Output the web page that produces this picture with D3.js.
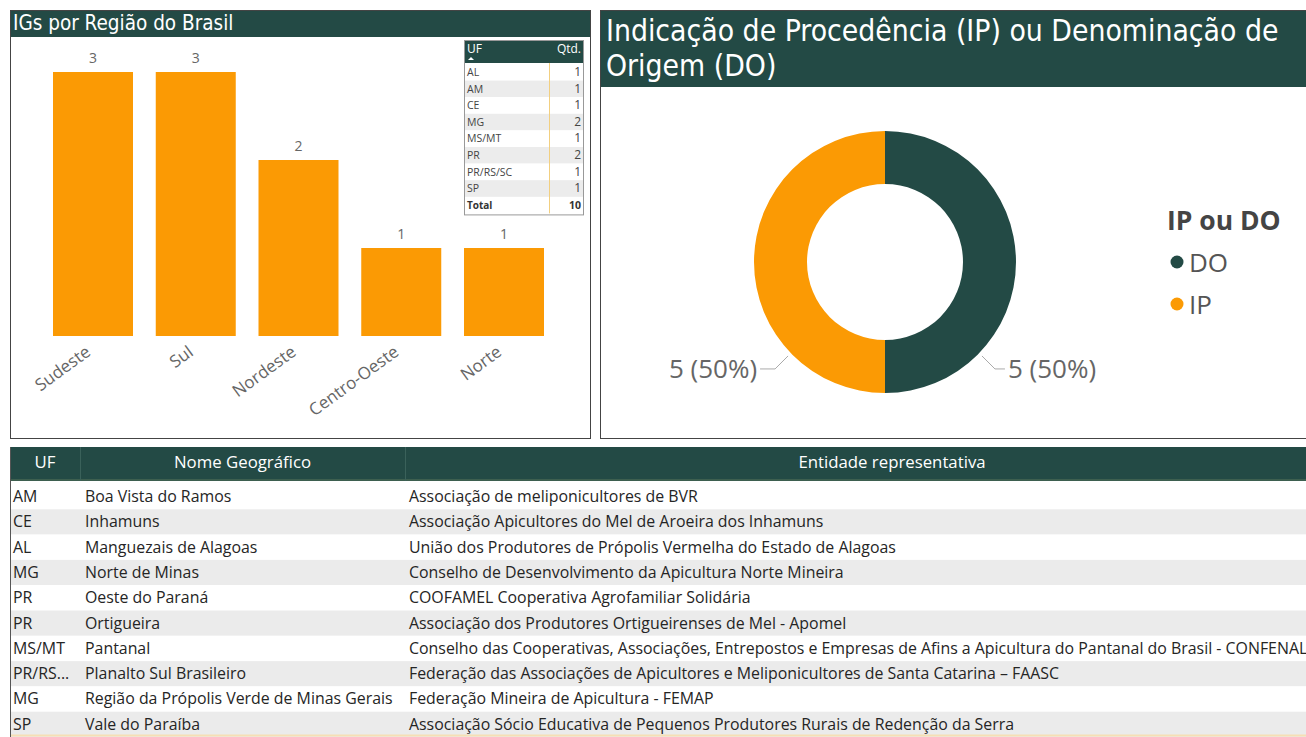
<!DOCTYPE html>
<html><head><meta charset="utf-8">
<script src="https://cdn.jsdelivr.net/npm/d3@7/dist/d3.min.js"></script>
<style>
body{margin:0;background:#fff;overflow:hidden}
svg{display:block}
</style></head>
<body>
<svg id="c" width="1306" height="737"></svg>
<script>
// ---------- DATA ----------
const regions = ["Sudeste","Sul","Nordeste","Centro-Oeste","Norte"];
const regionCounts = [3,3,2,1,1];
const ufList = ["AL","AM","CE","MG","MS/MT","PR","PR/RS/SC","SP"];
const ufCounts = [1,1,1,2,1,2,1,1];
const ufTotal = 10;
const types = ["DO","IP"];
const typeCounts = [5,5];
const tableUF = ["AM","CE","AL","MG","PR","PR","MS/MT","PR/RS...","MG","SP"];
const tableNome = ["Boa Vista do Ramos","Inhamuns","Manguezais de Alagoas","Norte de Minas","Oeste do Paraná","Ortigueira","Pantanal","Planalto Sul Brasileiro","Região da Própolis Verde de Minas Gerais","Vale do Paraíba"];
const tableEntidade = ["Associação de meliponicultores de BVR","Associação Apicultores do Mel de Aroeira dos Inhamuns","União dos Produtores de Própolis Vermelha do Estado de Alagoas","Conselho de Desenvolvimento da Apicultura Norte Mineira","COOFAMEL Cooperativa Agrofamiliar Solidária","Associação dos Produtores Ortigueirenses de Mel - Apomel","Conselho das Cooperativas, Associações, Entrepostos e Empresas de Afins a Apicultura do Pantanal do Brasil - CONFENAL","Federação das Associações de Apicultores e Meliponicultores de Santa Catarina – FAASC","Federação Mineira de Apicultura - FEMAP","Associação Sócio Educativa de Pequenos Produtores Rurais de Redenção da Serra"];
const tableHeaders = ["UF","Nome Geográfico","Entidade representativa"];

// ---------- STYLE ----------
const GREEN = "#234a45", ORANGE = "#fb9a04", GREY_TXT = "#666";
const titleFont = "'DejaVu Sans Condensed','DejaVu Sans',sans-serif";
const bodyFont = "'Open Sans','Noto Sans',sans-serif";
const svg = d3.select("#c");

// ---------- LEFT PANEL: bar chart ----------
const L = svg.append("g");
L.append("rect").attr("x",10.5).attr("y",10.5).attr("width",580).attr("height",428)
  .attr("fill","#fff").attr("stroke","#444");
L.append("rect").attr("x",11).attr("y",11).attr("width",579).attr("height",26).attr("fill",GREEN);
L.append("text").attr("x",13).attr("y",30).attr("fill","#fff")
  .style("font-family",titleFont).style("font-size","20.5px").text("IGs por Região do Brasil");

const x = d3.scaleBand().domain(regions).range([53,544]).paddingInner(0.2214).paddingOuter(0);
const y = d3.scaleLinear().domain([0,3]).range([336,72]);
L.selectAll("rect.bar").data(regions).join("rect").attr("class","bar")
  .attr("x",d=>x(d)).attr("width",x.bandwidth())
  .attr("y",(d,i)=>y(regionCounts[i])).attr("height",(d,i)=>y(0)-y(regionCounts[i]))
  .attr("fill",ORANGE);
L.selectAll("text.val").data(regions).join("text").attr("class","val")
  .attr("x",d=>x(d)+x.bandwidth()/2).attr("y",(d,i)=>y(regionCounts[i])-9)
  .attr("text-anchor","middle").attr("fill",GREY_TXT)
  .style("font-family",bodyFont).style("font-size","14px").text((d,i)=>regionCounts[i]);
const xAxis = L.append("g").attr("transform","translate(0,336)").call(d3.axisBottom(x).tickSize(0));
xAxis.select(".domain").remove();
xAxis.selectAll("text").attr("fill",GREY_TXT).style("font-family",bodyFont).style("font-size","17px")
  .attr("text-anchor","end").attr("dx",0).attr("dy",0)
  .attr("transform","translate(-3,16) rotate(-36)");

// small UF table
const T = L.append("g");
const tx0 = 464, tx1 = 583, thY = 40, thH = 23, rowH = 16.6;
T.append("rect").attr("x",tx0+0.5).attr("y",thY+0.5).attr("width",tx1-tx0).attr("height",thH+rowH*(ufList.length+1)+2)
  .attr("fill","#fff").attr("stroke","#999");
T.append("rect").attr("x",tx0+1).attr("y",thY+1).attr("width",tx1-tx0-1).attr("height",thH-1).attr("fill",GREEN);
T.append("text").attr("x",tx0+3).attr("y",thY+13).attr("fill","#fff").style("font-family",bodyFont).style("font-size","12px").text("UF");
T.append("path").attr("d",`M${tx0+4},${thY+20}l3,-3l3,3z`).attr("fill","#fff");
T.append("text").attr("x",tx1-2).attr("y",thY+13).attr("text-anchor","end").attr("fill","#fff").style("font-family",bodyFont).style("font-size","12px").text("Qtd.");
const rowsY = d3.scaleBand().domain(d3.range(ufList.length+1)).range([thY+thH+1, thY+thH+1+rowH*(ufList.length+1)]);
T.selectAll("rect.r").data(ufList).join("rect").attr("class","r")
  .attr("x",tx0+1).attr("width",tx1-tx0-1).attr("y",(d,i)=>rowsY(i)).attr("height",rowH)
  .attr("fill",(d,i)=>i%2? "#ececec":"#fff");
T.append("line").attr("x1",549.5).attr("x2",549.5).attr("y1",thY+thH).attr("y2",rowsY(ufList.length)+rowH)
  .attr("stroke","#f2cf80").attr("stroke-width",1);
T.selectAll("text.u").data(ufList).join("text").attr("class","u")
  .attr("x",tx0+3).attr("y",(d,i)=>rowsY(i)+12).attr("fill","#444")
  .style("font-family",bodyFont).style("font-size","10.5px").text(d=>d);
T.selectAll("text.q").data(ufCounts).join("text").attr("class","q")
  .attr("x",tx1-2).attr("y",(d,i)=>rowsY(i)+12).attr("text-anchor","end").attr("fill","#444")
  .style("font-family",bodyFont).style("font-size","12px").text(d=>d);
T.append("text").attr("x",tx0+3).attr("y",rowsY(ufList.length)+12).attr("fill","#333").attr("font-weight","bold")
  .style("font-family",bodyFont).style("font-size","10px").text("Total");
T.append("text").attr("x",tx1-2).attr("y",rowsY(ufList.length)+12).attr("text-anchor","end").attr("fill","#333").attr("font-weight","bold")
  .style("font-family",bodyFont).style("font-size","10.5px").text(ufTotal);

// ---------- RIGHT PANEL: donut ----------
const R = svg.append("g");
R.append("rect").attr("x",600.5).attr("y",10.5).attr("width",720).attr("height",428)
  .attr("fill","#fff").attr("stroke","#444");
R.append("rect").attr("x",601).attr("y",11).attr("width",710).attr("height",76).attr("fill",GREEN);
R.append("text").attr("fill","#fff").style("font-family",titleFont).style("font-size","29.8px")
  .selectAll("tspan").data(["Indicação de Procedência (IP) ou Denominação de","Origem (DO)"]).join("tspan")
  .attr("x",606).attr("y",(d,i)=>41+i*35).text(d=>d);

const cx = 885, cy = 262, rOut = 131, rIn = 78;
const color = d3.scaleOrdinal().domain(types).range([GREEN, ORANGE]);
const pie = d3.pie().sort(null).value(d=>d.v);
const arcs = pie(types.map((t,i)=>({t, v:typeCounts[i]})));
const arc = d3.arc().innerRadius(rIn).outerRadius(rOut);
const D = R.append("g").attr("transform",`translate(${cx},${cy})`);
D.selectAll("path").data(arcs).join("path").attr("d",arc).attr("fill",d=>color(d.data.t));
const total = d3.sum(typeCounts);
// labels placed toward the lower part of each slice
arcs.forEach(a=>{
  const right = a.startAngle < Math.PI;
  const ang = right ? a.startAngle + (a.endAngle-a.startAngle)*0.745 : a.endAngle - (a.endAngle-a.startAngle)*0.745;
  const p0 = [Math.sin(ang)*(rOut+4), -Math.cos(ang)*(rOut+4)];
  const p1 = [p0[0] + (right?13:-13), p0[1]+13];
  const p2 = [p1[0] + (right?10:-15), p1[1]];
  D.append("polyline").attr("points",[p0,p1,p2].map(p=>p.join(",")).join(" "))
    .attr("fill","none").attr("stroke","#aaa").attr("stroke-width",1);
  D.append("text").attr("x",p2[0]+(right?3:-3)).attr("y",p2[1]+9)
    .attr("text-anchor",right?"start":"end").attr("fill",GREY_TXT)
    .style("font-family",bodyFont).style("font-size","26px")
    .text(`${a.data.v} (${d3.format(".0%")(a.data.v/total)})`);
});
// legend
const G = R.append("g");
G.append("text").attr("x",1167).attr("y",230).attr("fill","#444").attr("font-weight","bold")
  .style("font-family",bodyFont).style("font-size","26.5px").text("IP ou DO");
const lg = G.selectAll("g.l").data(types).join("g").attr("class","l")
  .attr("transform",(d,i)=>`translate(1177,${262+i*42})`);
lg.append("circle").attr("r",6.5).attr("fill",d=>color(d));
lg.append("text").attr("x",12).attr("y",10).attr("fill","#555")
  .style("font-family",bodyFont).style("font-size","26px").text(d=>d);

// ---------- BOTTOM TABLE ----------
const B = svg.append("g");
const colX = [10, 80, 405, 1306];
const hY = 447, hH = 34, bRowH = 25.3, bodyY = 484;
B.append("rect").attr("x",10).attr("y",hY).attr("width",1296).attr("height",hH).attr("fill",GREEN);
B.append("line").attr("x1",10).attr("x2",1306).attr("y1",hY+hH-1).attr("y2",hY+hH-1).attr("stroke","#3d5f4f").attr("stroke-width",2);
B.selectAll("line.sep").data([80,405]).join("line").attr("class","sep")
  .attr("x1",d=>d+0.5).attr("x2",d=>d+0.5).attr("y1",hY).attr("y2",hY+hH).attr("stroke","#3a615a");
B.selectAll("text.h").data(tableHeaders).join("text").attr("class","h")
  .attr("x",(d,i)=> i<2 ? (colX[i]+colX[i+1])/2 : 892).attr("y",hY+21).attr("text-anchor","middle")
  .attr("fill","#fff").style("font-family",bodyFont).style("font-size","16.8px").text(d=>d);
const by = d3.scaleBand().domain(d3.range(tableUF.length)).range([bodyY, bodyY+bRowH*tableUF.length]);
B.selectAll("rect.br").data(tableUF).join("rect").attr("class","br")
  .attr("x",11).attr("width",1295).attr("y",(d,i)=>by(i)).attr("height",bRowH)
  .attr("fill",(d,i)=>i%2? "#ebebeb":"#fff");
B.append("line").attr("x1",10.5).attr("x2",10.5).attr("y1",hY).attr("y2",737).attr("stroke","#555");
B.append("line").attr("x1",11).attr("x2",1306).attr("y1",735.5).attr("y2",735.5).attr("stroke","#f6dfb5").attr("stroke-width",2);
const cols = [tableUF, tableNome, tableEntidade];
const colTextX = [13, 85, 409];
cols.forEach((arr,c)=>{
  B.selectAll(`text.c${c}`).data(arr).join("text").attr("class",`c${c}`)
    .attr("x",colTextX[c]).attr("y",(d,i)=>by(i)+18).attr("fill","#252525")
    .style("font-family",bodyFont).style("font-size","15.9px").text(d=>d);
});
</script>
</body></html>
